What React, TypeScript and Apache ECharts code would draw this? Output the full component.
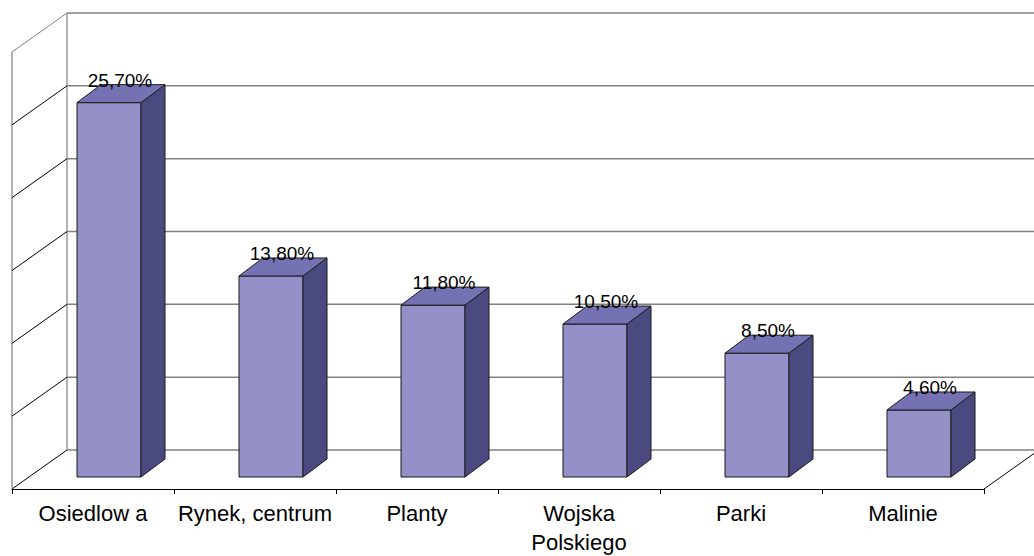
import React, { useEffect, useRef } from "react";
import * as echarts from "echarts";

const categories = ["Osiedlow a", "Rynek, centrum", "Planty", "Wojska\nPolskiego", "Parki", "Malinie"];
const values = [25.7, 13.8, 11.8, 10.5, 8.5, 4.6];
const valueLabels = ["25,70%", "13,80%", "11,80%", "10,50%", "8,50%", "4,60%"];
const yTicks = [0, 5, 10, 15, 20, 25, 30];

const WALL_DX = 55;
const WALL_DY = -39;
const BAR_OFF_X = 16;
const BAR_OFF_Y = -12;
const BAR_W = 64;
const BAR_DX = 24;
const BAR_DY = -18;

const FRONT = "#9290C6";
const TOP = "#7472B2";
const SIDE = "#4B4A80";
const EDGE = "#1a1a1a";
const GRID_GREY = "#808080";
const FONT = '"Liberation Sans", Arial, sans-serif';

export default function App() {
  const ref = useRef<HTMLDivElement>(null);
  useEffect(() => {
    if (!ref.current) return;
    const chart = echarts.init(ref.current, undefined, { renderer: "svg" });
    const option: any = {
      animation: false,
      backgroundColor: "#ffffff",
      grid: { left: 12, right: 50, top: 52, bottom: 67, containLabel: false, outerBoundsMode: "none" },
      xAxis: {
        type: "category",
        data: categories,
        boundaryGap: true,
        axisLine: { show: true, lineStyle: { color: "#000", width: 1 } },
        axisTick: { show: true, length: 5, interval: 0, lineStyle: { color: "#000" } },
        axisLabel: {
          interval: 0,
          color: "#000",
          fontSize: 22,
          fontFamily: FONT,
          lineHeight: 29,
          margin: 10,
        },
        splitLine: { show: false },
      },
      yAxis: {
        type: "value",
        min: 0,
        max: 30,
        interval: 5,
        axisLine: { show: false },
        axisTick: { show: false },
        axisLabel: { show: false },
        splitLine: { show: false },
      },
      series: [
        {
          type: "custom",
          clip: false,
          silent: true,
          z: 1,
          data: yTicks.map((v) => [0, v]),
          renderItem: (params: any, api: any) => {
            const v = api.value(1);
            const cs = params.coordSys;
            const left = cs.x;
            const right = cs.x + cs.width;
            const bottom = cs.y + cs.height;
            const top = cs.y;
            const y = api.coord([0, v])[1];
            const isTop = v === yTicks[yTicks.length - 1];
            const children: any[] = [
              {
                type: "line",
                shape: { x1: left + WALL_DX, y1: y + WALL_DY, x2: api.getWidth(), y2: y + WALL_DY },
                style: { stroke: GRID_GREY, lineWidth: 1.5 },
              },
              {
                type: "line",
                shape: { x1: left, y1: y, x2: left + WALL_DX, y2: y + WALL_DY },
                style: { stroke: isTop ? GRID_GREY : "#000", lineWidth: 1 },
              },
            ];
            if (params.dataIndex === 0) {
              children.push(
                {
                  type: "line",
                  shape: { x1: left, y1: top, x2: left, y2: bottom },
                  style: { stroke: GRID_GREY, lineWidth: 1.2 },
                },
                {
                  type: "line",
                  shape: { x1: left + WALL_DX, y1: top + WALL_DY, x2: left + WALL_DX, y2: bottom + WALL_DY },
                  style: { stroke: GRID_GREY, lineWidth: 1.2 },
                },
                {
                  type: "line",
                  shape: { x1: right, y1: bottom, x2: right + WALL_DX, y2: bottom + WALL_DY },
                  style: { stroke: "#000", lineWidth: 1 },
                }
              );
            }
            return { type: "group", children };
          },
        },
        {
          type: "custom",
          clip: false,
          z: 2,
          data: values.map((v, i) => [i, v]),
          renderItem: (params: any, api: any) => {
            const i = api.value(0);
            const v = api.value(1);
            const base = api.coord([i, 0]);
            const topPt = api.coord([i, v]);
            const cx = base[0] + BAR_OFF_X;
            const x0 = cx - BAR_W / 2;
            const x1 = cx + BAR_W / 2;
            const yb = base[1] + BAR_OFF_Y;
            const yt = topPt[1] + BAR_OFF_Y;
            const edge = { stroke: EDGE, lineWidth: 1, lineJoin: "round" };
            return {
              type: "group",
              children: [
                {
                  type: "polygon",
                  shape: { points: [[x0, yt], [x1, yt], [x1, yb], [x0, yb]] },
                  style: { fill: FRONT, ...edge },
                },
                {
                  type: "polygon",
                  shape: { points: [[x1, yt], [x1 + BAR_DX, yt + BAR_DY], [x1 + BAR_DX, yb + BAR_DY], [x1, yb]] },
                  style: { fill: SIDE, ...edge },
                },
                {
                  type: "polygon",
                  shape: { points: [[x0, yt], [x0 + BAR_DX, yt + BAR_DY], [x1 + BAR_DX, yt + BAR_DY], [x1, yt]] },
                  style: { fill: TOP, ...edge },
                },
                {
                  type: "text",
                  x: (x0 + x1 + BAR_DX) / 2 - 1,
                  y: yt + BAR_DY + 5,
                  style: {
                    text: valueLabels[i],
                    fill: "#000",
                    font: `19px ${FONT}`,
                    textAlign: "center",
                    textVerticalAlign: "bottom",
                  },
                },
              ],
            };
          },
        },
      ],
    };
    chart.setOption(option);
    return () => chart.dispose();
  }, []);
  return (
    <div
      ref={ref}
      style={{ position: "absolute", left: 0, top: 0, width: 1034, height: 556, background: "#fff" }}
    />
  );
}
